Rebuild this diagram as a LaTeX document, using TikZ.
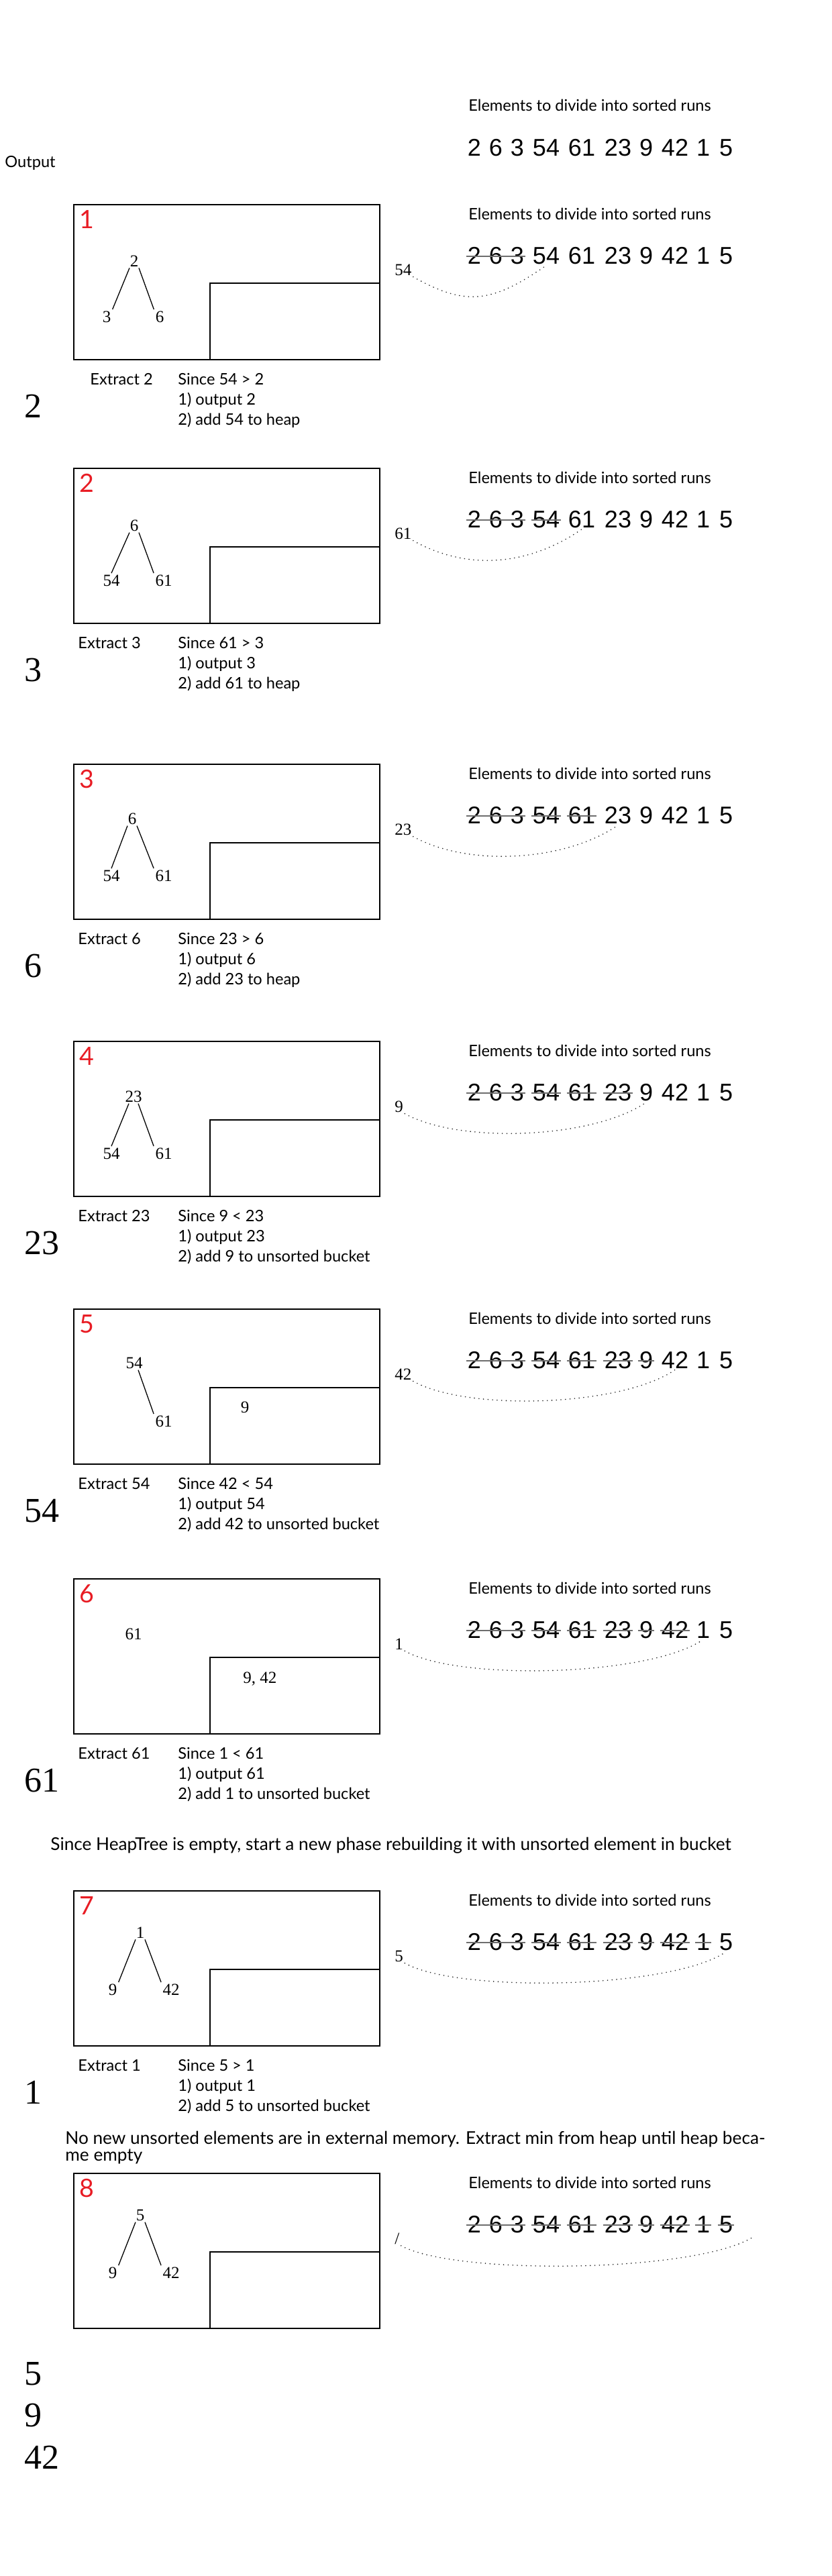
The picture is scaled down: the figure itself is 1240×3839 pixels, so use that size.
\documentclass[tikz,border=0pt]{standalone}
\usepackage{fontspec}
\usepackage{tikz}
\setmainfont{Liberation Serif}
\newfontfamily\notefont{Lato}
\newfontfamily\seqfont{Liberation Sans}
\definecolor{stepred}{RGB}{232,28,36}
\definecolor{strikegray}{RGB}{110,110,110}

\begin{document}
\begin{tikzpicture}[
    x=0.5pt, y=-0.5pt,
    heapbox/.style={draw, line width=1.1pt},
    bucketbox/.style={draw, line width=0.8pt},
    stepnum/.style={text=stepred, font=\notefont\fontsize{18.8}{20}\selectfont, anchor=base west, inner sep=0pt},
    note/.style={font=\notefont\fontsize{11.8}{15}\selectfont, anchor=base west, inner sep=0pt, align=left},
    longnote/.style={font=\notefont\fontsize{13.1}{12.5}\selectfont, anchor=base west, inner sep=0pt, align=left},
    seqnum/.style={font=\seqfont\fontsize{18}{20}\selectfont, anchor=base, inner sep=1pt},
    hnode/.style={font=\fontsize{12.5}{14}\selectfont, anchor=base, inner sep=1pt},
    readlbl/.style={font=\fontsize{12.5}{14}\selectfont, anchor=base west, inner sep=1pt},
    outnum/.style={font=\fontsize{26}{30}\selectfont, anchor=base west, inner sep=0pt},
    treeline/.style={line width=0.65pt},
    strike/.style={draw=strikegray, line width=0.6pt},
    readcurve/.style={draw=black!85, line width=0.9pt, line cap=round, dash pattern=on 0pt off 3.4pt}
]
    \useasboundingbox (0,0) rectangle (1240,3839);

    % input list before the run starts
    \node[note] (outhead) at (7,249) {Output};
    \node[note] (elem0) at (698,165) {Elements to divide into sorted runs};
    \foreach \v/\x [count=\i] in {2/707,6/739,3/771,54/814,61/867,23/921,9/963,42/1006,1/1048,5/1082}
        \node[seqnum] (s0-\i) at (\x,232) {\v};

    % one frame per step: heap box, bucket, input list, element read
    \foreach \n/\T/\lab/\k in {1/305/54/3, 2/698/61/4, 3/1139/23/5, 4/1552/9/6,
                               5/1951/42/7, 6/2353/1/8, 7/2818/5/9, 8/3239/{/}/10}{
        \draw[heapbox] (110,\T) rectangle (566,\T+231);
        \draw[bucketbox] (313,\T+117) rectangle (566,\T+231);
        \node[stepnum] (num\n) at (118,\T+35) {\n};
        \node[note] (elem\n) at (698,\T+22) {Elements to divide into sorted runs};
        \foreach \v/\x [count=\i] in {2/707,6/739,3/771,54/814,61/867,23/921,9/963,42/1006,1/1048,5/1082}
            \node[seqnum] (s\n-\i) at (\x,\T+88) {\v};
        \coordinate (s\n-11) at (1125,\T+93);
        \draw[strike] ([yshift=5.5pt]s\n-1.base west) -- ([yshift=5.5pt]s\n-3.base east);
        \foreach \j in {4,...,10}{
            \ifnum\j>\k\relax\else
                \draw[strike] ([yshift=5.5pt]s\n-\j.base west) -- ([yshift=5.5pt]s\n-\j.base east);
            \fi
        }
        \node[readlbl] (lab\n) at (586,\T+105) {\lab};
        \pgfmathtruncatemacro\t{\n+3}
        \ifnum\n<8 \edef\tend{s\n-\t.south}\else\edef\tend{s\n-\t}\fi
        \draw[readcurve] (lab\n.south east) .. controls +(80,45) and +(-80,55) .. (\tend);
    }

    % step 1
    \node[hnode] (r1) at (200,397) {2};
    \node[hnode] (a1) at (159,480) {3};
    \node[hnode] (b1) at (238,480) {6};
    \draw[treeline] ([xshift=-3.5pt]r1.south) -- (a1.north east);
    \draw[treeline] ([xshift=3.5pt]r1.south) -- (b1.north west);
    \node[note] (ext1) at (134,573) {Extract 2};
    \node[note] (why1) at (265,633) {Since 54 > 2\\1) output 2\\2) add 54 to heap};
    \node[outnum] (out1) at (36,622) {2};

    % step 2
    \node[hnode] (r2) at (200,791) {6};
    \node[hnode] (a2) at (166,873) {54};
    \node[hnode] (b2) at (244,873) {61};
    \draw[treeline] ([xshift=-3.5pt]r2.south) -- (a2.north);
    \draw[treeline] ([xshift=3.5pt]r2.south) -- (b2.north west);
    \node[note] (ext2) at (116,966) {Extract 3};
    \node[note] (why2) at (265,1026) {Since 61 > 3\\1) output 3\\2) add 61 to heap};
    \node[outnum] (out2) at (36,1015) {3};

    % step 3
    \node[hnode] (r3) at (197,1228) {6};
    \node[hnode] (a3) at (166,1313) {54};
    \node[hnode] (b3) at (244,1313) {61};
    \draw[treeline] ([xshift=-3.5pt]r3.south) -- (a3.north);
    \draw[treeline] ([xshift=3.5pt]r3.south) -- (b3.north west);
    \node[note] (ext3) at (116,1407) {Extract 6};
    \node[note] (why3) at (265,1467) {Since 23 > 6\\1) output 6\\2) add 23 to heap};
    \node[outnum] (out3) at (36,1456) {6};

    % step 4
    \node[hnode] (r4) at (199,1642) {23};
    \node[hnode] (a4) at (166,1727) {54};
    \node[hnode] (b4) at (244,1727) {61};
    \draw[treeline] ([xshift=-3.5pt]r4.south) -- (a4.north);
    \draw[treeline] ([xshift=3.5pt]r4.south) -- (b4.north west);
    \node[note] (ext4) at (116,1820) {Extract 23};
    \node[note] (why4) at (265,1880) {Since 9 < 23\\1) output 23\\2) add 9 to unsorted bucket};
    \node[outnum] (out4) at (36,1869) {23};

    % step 5
    \node[hnode] (r5) at (200,2039) {54};
    \node[hnode] (b5) at (244,2126) {61};
    \draw[treeline] ([xshift=3pt]r5.south) -- (b5.north west);
    \node[hnode] (bk5) at (365,2105) {9};
    \node[note] (ext5) at (116,2219) {Extract 54};
    \node[note] (why5) at (265,2279) {Since 42 < 54\\1) output 54\\2) add 42 to unsorted bucket};
    \node[outnum] (out5) at (36,2268) {54};

    % step 6
    \node[hnode] (r6) at (199,2443) {61};
    \node[readlbl] (bk6) at (360,2508) {9, 42};
    \node[note] (ext6) at (116,2621) {Extract 61};
    \node[note] (why6) at (265,2681) {Since 1 < 61\\1) output 61\\2) add 1 to unsorted bucket};
    \node[outnum] (out6) at (36,2670) {61};

    \node[longnote] (phase) at (75,2757) {Since HeapTree is empty, start a new phase rebuilding it with unsorted element in bucket};

    % step 7
    \node[hnode] (r7) at (209,2888) {1};
    \node[hnode] (a7) at (168,2973) {9};
    \node[hnode] (b7) at (255,2973) {42};
    \draw[treeline] ([xshift=-3.5pt]r7.south) -- (a7.north east);
    \draw[treeline] ([xshift=3.5pt]r7.south) -- (b7.north west);
    \node[note] (ext7) at (116,3086) {Extract 1};
    \node[note] (why7) at (265,3146) {Since 5 > 1\\1) output 1\\2) add 5 to unsorted bucket};
    \node[outnum] (out7) at (36,3135) {1};

    \node[longnote] (drain) at (97,3220) {No new unsorted elements are in external memory. Extract min from heap until heap beca-\\me empty};

    % step 8
    \node[hnode] (r8) at (209,3309) {5};
    \node[hnode] (a8) at (168,3395) {9};
    \node[hnode] (b8) at (255,3395) {42};
    \draw[treeline] ([xshift=-3.5pt]r8.south) -- (a8.north east);
    \draw[treeline] ([xshift=3.5pt]r8.south) -- (b8.north west);
    \node[outnum] (out8) at (36,3554) {5};
    \node[outnum] (out9) at (36,3616) {9};
    \node[outnum] (out10) at (36,3679) {42};
\end{tikzpicture}
\end{document}
